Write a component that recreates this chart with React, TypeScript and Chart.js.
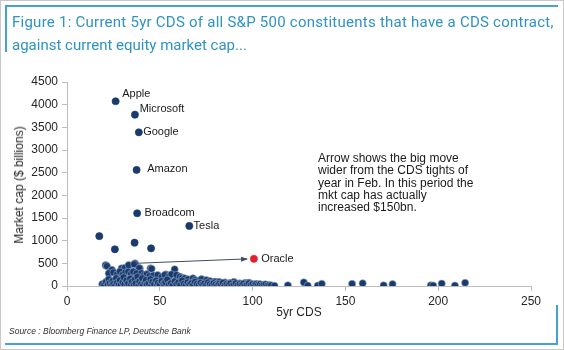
import React, { useEffect, useRef } from "react";
import { Chart, registerables } from "chart.js";

Chart.register(...registerables);

// ---- data ----
const xTicks = [0, 50, 100, 150, 200, 250];
const yTicks = [0, 500, 1000, 1500, 2000, 2500, 3000, 3500, 4000, 4500];

const namedLabels = ["Apple", "Microsoft", "Google", "Amazon", "Broadcom", "Tesla"];
const namedCds = [26.2, 36.6, 38.7, 37.5, 37.8, 65.9];
const namedCap = [4075, 3780, 3390, 2560, 1605, 1325];

const oracleLabel = ["Oracle"];
const oracleCds = [100.7];
const oracleCap = [600];

const arrowFrom = [36.6, 500];
const arrowTo = [97.0, 598];

// outliers above the main cluster
const upperCds = [17.4, 25.8, 36.4, 45.3];
const upperCap = [1100, 810, 955, 830];

// mid-level cluster (roughly 150-500)
const midCds = [20.8, 21.5, 23.7, 24.2, 29.4, 31.2, 33.2, 36.6, 36.2, 39.2, 38.9, 45.0, 45.6, 58.0,
  22.5, 25.0, 27.0, 28.5, 30.0, 31.5, 33.0, 34.5, 35.7, 37.5, 40.1, 41.5, 43.0, 44.5, 46.5, 48.8,
  51.0, 53.2, 52.7, 55.0, 56.3, 59.0, 60.8, 62.0, 63.4, 65.2, 67.9, 69.0, 71.0, 72.5, 75.1, 77.0,
  79.6, 82.0, 85.0, 88.0, 90.0, 93.0, 96.0, 98.0];
const midCap = [460, 440, 340, 355, 390, 400, 460, 500, 480, 390, 395, 390, 380, 370,
  280, 300, 260, 320, 250, 300, 315, 270, 315, 280, 280, 240, 260, 220, 230, 242,
  200, 258, 242, 210, 258, 242, 205, 180, 170, 148, 170, 130, 120, 150, 130, 110,
  95, 90, 80, 70, 90, 60, 70, 75];

// base-level cluster (0-200)
const baseCds = [19, 20, 21, 22, 22.5, 23, 24, 24.5, 25, 26, 26.5, 27, 28, 28.5, 29, 30, 30.5, 31,
  32, 32.5, 33, 34, 34.5, 35, 36, 36.5, 37, 38, 38.5, 39, 40, 40.5, 41, 42, 42.5, 43, 44, 45,
  45.5, 46, 47, 48, 48.5, 49, 50, 51, 52, 52.5, 53, 54, 55, 56, 57, 58, 59, 60, 61, 62, 63, 64,
  65, 66, 67, 68, 69, 70, 71, 72, 73, 74, 75, 76, 77, 78, 79, 80, 81, 82, 83, 84, 85, 86, 87,
  88, 89, 90, 91, 92, 93, 94, 95, 96, 97, 98, 99, 100, 101, 102, 103, 104, 105, 106, 107, 108,
  109, 110, 111.8];
const baseCap = [40, 15, 90, 30, 150, 60, 20, 110, 45, 10, 170, 70, 30, 130, 15, 80, 190, 40,
  120, 10, 60, 160, 30, 95, 20, 140, 55, 200, 15, 100, 45, 170, 10, 80, 130, 30, 60, 150,
  15, 90, 40, 120, 10, 70, 30, 110, 50, 15, 85, 140, 35, 60, 15, 100, 40, 75, 20, 120, 50, 10,
  80, 35, 60, 20, 90, 45, 15, 70, 30, 55, 20, 80, 40, 15, 60, 30, 10, 50, 25, 70, 15, 40, 20,
  55, 10, 30, 60, 15, 40, 20, 50, 10, 30, 60, 20, 40, 15, 45, 25, 40, 15, 30, 35, 10,
  20, 15, 5];

// wide-spread names to the right
const wideCds = [119, 127.6, 129.7, 135.1, 137.3, 153.6, 159.3, 170.6, 175.4, 196, 197.3, 201.9, 209, 214.5];
const wideCap = [15, 80, 10, 10, 50, 50, 60, 15, 40, 15, 10, 55, 10, 70];

// ---- styles ----
const NAVY = "#1b3a6c";
const RED = "#e3202b";
const AXIS = "#bdbdbd";
const FONT = "'Liberation Sans', Arial, sans-serif";
const labelDx = [6.6, 4.7, 4.3, 10.6, 7.4, 4.3];
const labelDy = [-7.3, -6, 0, -1, 0, 0];

const toPts = (xs: number[], ys: number[]) => xs.map((x, i) => ({ x, y: ys[i] }));

const labelPlugin = {
  id: "labels",
  afterDatasetsDraw(chart: any) {
    const ctx = chart.ctx;
    const xs = chart.scales.x;
    const ys = chart.scales.y;
    ctx.save();
    // arrow
    const x1 = xs.getPixelForValue(arrowFrom[0]);
    const y1 = ys.getPixelForValue(arrowFrom[1]);
    const x2 = xs.getPixelForValue(arrowTo[0]);
    const y2 = ys.getPixelForValue(arrowTo[1]);
    ctx.strokeStyle = "#3d4d63";
    ctx.fillStyle = "#3d4d63";
    ctx.lineWidth = 1;
    ctx.beginPath();
    ctx.moveTo(x1, y1);
    ctx.lineTo(x2, y2);
    ctx.stroke();
    const ang = Math.atan2(y2 - y1, x2 - x1);
    ctx.beginPath();
    ctx.moveTo(x2 + 1, y2);
    ctx.lineTo(x2 - 6 * Math.cos(ang) + 2.5 * Math.sin(ang), y2 - 6 * Math.sin(ang) - 2.5 * Math.cos(ang));
    ctx.lineTo(x2 - 6 * Math.cos(ang) - 2.5 * Math.sin(ang), y2 - 6 * Math.sin(ang) + 2.5 * Math.cos(ang));
    ctx.closePath();
    ctx.fill();
    // labels
    ctx.fillStyle = "#1a1a1a";
    ctx.font = `11px ${FONT}`;
    ctx.textBaseline = "middle";
    ctx.textAlign = "left";
    namedLabels.forEach((t, i) => {
      ctx.fillText(t, xs.getPixelForValue(namedCds[i]) + labelDx[i], ys.getPixelForValue(namedCap[i]) + labelDy[i]);
    });
    ctx.fillText(oracleLabel[0], xs.getPixelForValue(oracleCds[0]) + 7.3, ys.getPixelForValue(oracleCap[0]));
    ctx.restore();
  },
};

export default function App() {
  const ref = useRef<HTMLCanvasElement | null>(null);
  useEffect(() => {
    if (!ref.current) return;
    const pointStyle = {
      pointRadius: 3.6,
      borderWidth: 0.6,
      showLine: false,
    };
    const chart = new Chart(ref.current, {
      type: "scatter",
      data: {
        datasets: [
          { data: toPts(baseCds, baseCap), backgroundColor: NAVY, borderColor: "#8fa9cc", ...pointStyle },
          { data: toPts(midCds, midCap), backgroundColor: NAVY, borderColor: "#8fa9cc", ...pointStyle },
          { data: toPts(upperCds, upperCap), backgroundColor: NAVY, borderColor: NAVY, ...pointStyle },
          { data: toPts(wideCds, wideCap), backgroundColor: NAVY, borderColor: "#8fa9cc", ...pointStyle },
          { data: toPts(namedCds, namedCap), backgroundColor: NAVY, borderColor: NAVY, ...pointStyle },
          { data: toPts(oracleCds, oracleCap), backgroundColor: RED, borderColor: RED, ...pointStyle },
        ],
      },
      options: {
        animation: false,
        responsive: false,
        events: [],
        layout: { padding: { top: 82, right: 33, left: 0, bottom: 0 } },
        plugins: { legend: { display: false }, tooltip: { enabled: false } },
        scales: {
          x: {
            type: "linear",
            min: 0,
            max: 250,
            afterBuildTicks: (s: any) => { s.ticks = xTicks.map((v) => ({ value: v })); },
            afterFit: (s: any) => { s.height = 64; },
            grid: { display: true, drawOnChartArea: false, drawTicks: true, tickLength: 5, color: AXIS },
            border: { color: AXIS, width: 1 },
            ticks: { color: "#262626", font: { family: FONT, size: 12 }, padding: 3, maxRotation: 0, callback: (v: any) => String(v) },
          },
          y: {
            type: "linear",
            min: 0,
            max: 4500,
            afterBuildTicks: (s: any) => { s.ticks = yTicks.map((v) => ({ value: v })); },
            afterFit: (s: any) => { s.width = 67; },
            grid: { display: true, drawOnChartArea: false, drawTicks: true, tickLength: 5, color: AXIS },
            border: { color: AXIS, width: 1 },
            ticks: { color: "#262626", font: { family: FONT, size: 12 }, padding: 4, callback: (v: any) => String(v) },
          },
        },
      },
      plugins: [labelPlugin],
    } as any);
    return () => chart.destroy();
  }, []);

  const abs: React.CSSProperties = { position: "absolute", margin: 0, whiteSpace: "nowrap" };
  return (
    <div style={{ position: "absolute", left: 0, top: 0, width: 564, height: 350, background: "#fff", border: "1px solid #c9c9c9", boxSizing: "border-box", overflow: "hidden", fontFamily: FONT }}>
      <canvas ref={ref} width={564} height={350} style={{ position: "absolute", left: -1, top: -1, width: 564, height: 350 }} />
      {/* decorative frame lines */}
      <div style={{ position: "absolute", left: 4, top: 4, width: 553, height: 2, background: "#45a2d3" }} />
      <div style={{ position: "absolute", left: 4, top: 4, width: 2, height: 47, background: "#45a2d3" }} />
      <div style={{ position: "absolute", left: 4, top: 342, width: 553, height: 2, background: "#45a2d3" }} />
      <div style={{ position: "absolute", left: 555, top: 304, width: 2, height: 40, background: "#45a2d3" }} />
      <div style={{ ...abs, left: 11, top: 10, fontSize: 15, lineHeight: "23px", color: "#2e93c4", fontFamily: "Roboto, sans-serif" }}>
        <span style={{ letterSpacing: "0.25px" }}>Figure 1: Current 5yr CDS of all S&amp;P 500 constituents that have a CDS contract,</span><br />against current equity market cap...
      </div>
      <div style={{ ...abs, left: 317, top: 151, fontSize: 12, lineHeight: "12.3px", color: "#1a1a1a" }}>
        Arrow shows the big move<br />wider from the CDS tights of<br />year in Feb. In this period the<br />mkt cap has actually<br />increased $150bn.
      </div>
      <div style={{ ...abs, left: 18, top: 184, fontSize: 12, color: "#262626", transform: "translate(-50%, -50%) rotate(-90deg)" }}>
        Market cap ($ billions)
      </div>
      <div style={{ ...abs, left: 298, top: 311, fontSize: 12, color: "#262626", transform: "translate(-50%, -50%)" }}>
        5yr CDS
      </div>
      <div style={{ ...abs, left: 8, top: 325, fontSize: 8.5, fontStyle: "italic", color: "#333" }}>
        Source : Bloomberg Finance LP, Deutsche Bank
      </div>
    </div>
  );
}
